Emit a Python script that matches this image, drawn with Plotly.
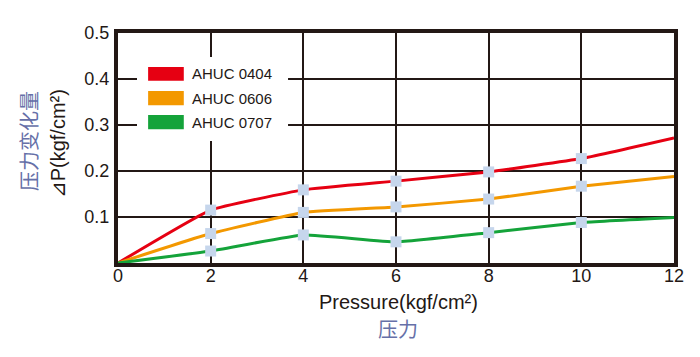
import plotly.graph_objects as go

pressure = [0, 2, 4, 6, 8, 10, 12]
series_names = ["AHUC 0404", "AHUC 0606", "AHUC 0707"]
dp_0404 = [0, 0.115, 0.159, 0.178, 0.198, 0.227, 0.272]
dp_0606 = [0, 0.064, 0.110, 0.122, 0.139, 0.167, 0.188]
dp_0707 = [0, 0.026, 0.061, 0.046, 0.066, 0.088, 0.099]
x_ticks = [0, 2, 4, 6, 8, 10, 12]
y_ticks = [0.1, 0.2, 0.3, 0.4, 0.5]

colors = ["#e60012", "#f39800", "#14a33a"]
marker_color = "#c6d6ec"
ink = "#231815"
cjk_color = "#6670a8"

fig = go.Figure()
for name, ys, c in zip(series_names, [dp_0404, dp_0606, dp_0707], colors):
    fig.add_trace(go.Scatter(
        x=pressure, y=ys, name=name, mode="lines",
        line=dict(color=c, width=3, shape="spline", smoothing=0.35),
        showlegend=False,
    ))
for name, ys in zip(series_names, [dp_0404, dp_0606, dp_0707]):
    fig.add_trace(go.Scatter(
        x=pressure[1:-1], y=ys[1:-1], name=name, mode="markers",
        marker=dict(symbol="square", size=11, color=marker_color, line=dict(width=0)),
        showlegend=False,
    ))

# legend box (manual)
fig.add_shape(type="rect", x0=0.41, x1=3.67, y0=0.265, y1=0.448,
              xref="x", yref="y", fillcolor="white", line=dict(width=0), layer="above")
sw_y = [(0.396, 0.426), (0.343, 0.374), (0.291, 0.322)]
for name, c, (y0, y1) in zip(series_names, colors, sw_y):
    fig.add_shape(type="rect", x0=0.65, x1=1.42, y0=y0, y1=y1, xref="x", yref="y",
                  fillcolor=c, line=dict(width=0), layer="above")
    fig.add_annotation(x=1.55, y=(y0 + y1) / 2, xref="x", yref="y", text=name,
                       showarrow=False, xanchor="left", yanchor="middle",
                       font=dict(family="Liberation Sans, Arial", size=15, color=ink))

font_main = dict(family="Liberation Sans, Arial, Helvetica", size=18, color=ink)

fig.update_xaxes(range=[0, 12], tickvals=x_ticks, ticktext=[str(v) for v in x_ticks],
                 showgrid=True, gridcolor=ink, gridwidth=2, zeroline=False,
                 showline=True, linecolor=ink, linewidth=4, mirror=True,
                 ticks="", tickfont=font_main, ticklabelstandoff=-7)
fig.update_yaxes(range=[0, 0.5], tickvals=y_ticks, ticktext=[f"{v:.1f}" for v in y_ticks],
                 showgrid=True, gridcolor=ink, gridwidth=2, zeroline=False,
                 showline=True, linecolor=ink, linewidth=4, mirror=True,
                 ticks="", tickfont=font_main, ticklabelstandoff=1)

# axis titles
fig.add_annotation(x=0.504, y=-0.17, xref="paper", yref="paper", text="Pressure(kgf/cm²)",
                   showarrow=False, xanchor="center", yanchor="middle",
                   font=dict(family="Liberation Sans, Arial", size=20, color=ink))
fig.add_annotation(x=0.504, y=-0.285, xref="paper", yref="paper", text="压力",
                   showarrow=False, xanchor="center", yanchor="middle",
                   font=dict(family="Noto Sans CJK SC", size=20, color=cjk_color))
fig.add_annotation(x=-0.108, y=0.52, xref="paper", yref="paper", text="⊿P(kgf/cm²)",
                   showarrow=False, textangle=-90, xanchor="center", yanchor="middle",
                   font=dict(family="Liberation Sans, Arial", size=20, color=ink))
fig.add_annotation(x=-0.162, y=0.53, xref="paper", yref="paper", text="压力变化量",
                   showarrow=False, textangle=-90, xanchor="center", yanchor="middle",
                   font=dict(family="Noto Sans CJK SC", size=20, color=cjk_color))

# page body has an 8px margin, so the figure is offset by 8px
fig.update_layout(width=700, height=357, margin=dict(l=110, r=34, t=25, b=102),
                  paper_bgcolor="white", plot_bgcolor="white", showlegend=False)

fig.write_html("out.html")
